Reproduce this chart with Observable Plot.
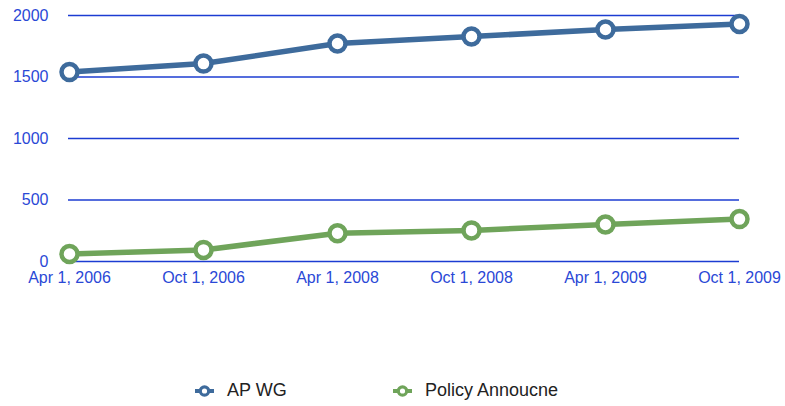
<!DOCTYPE html>
<html>
<head>
<meta charset="utf-8">
<script src="https://cdn.jsdelivr.net/npm/d3@7"></script>
<script src="https://cdn.jsdelivr.net/npm/@observablehq/plot@0.6"></script>
<style>
  html, body { margin: 0; padding: 0; background: #fff; }
  #chart { width: 785px; }
  .legend { height: 31px; display: flex; align-items: center; font-family: "Liberation Sans", Arial, sans-serif; font-size: 18px; color: #222; }
  .legend .item { display: flex; align-items: center; position: absolute; }
  .legend svg { margin-right: 13px; }
</style>
</head>
<body>
<div id="chart"></div>
<script>
const categories = ["Apr 1, 2006", "Oct 1, 2006", "Apr 1, 2008", "Oct 1, 2008", "Apr 1, 2009", "Oct 1, 2009"];
const apwg = [1540, 1609, 1772, 1829, 1886, 1931];
const policy = [61, 94, 230, 253, 301, 345];
const seriesNames = ["AP WG", "Policy Annoucne"];
const seriesColors = ["#3e6b9c", "#6fa45a"];
const yTicks = [0, 500, 1000, 1500, 2000];

const data = [
  ...categories.map((c, i) => ({cat: c, value: apwg[i], series: seriesNames[0]})),
  ...categories.map((c, i) => ({cat: c, value: policy[i], series: seriesNames[1]}))
];

const textColor = "#2a48d6";
const gridColor = "#1c3cd2";

const plot = Plot.plot({
  width: 785,
  height: 375,
  marginLeft: 68,
  marginRight: 46,
  marginTop: 15,
  marginBottom: 114,
  style: {fontFamily: "'Liberation Sans', Arial, sans-serif", fontSize: "16px", color: textColor, background: "#fff"},
  x: {type: "point", domain: categories, padding: 0, label: null},
  y: {domain: [0, 2000], label: null},
  color: {domain: seriesNames, range: seriesColors},
  marks: [
    Plot.ruleY(yTicks, {stroke: gridColor, strokeWidth: 1.3, strokeOpacity: 1}),
    Plot.axisY(yTicks, {tickSize: 0, tickPadding: 20, fill: textColor, fontSize: 16, tickFormat: d => String(d)}),
    Plot.axisX({tickSize: 0, tickPadding: 10, fill: textColor, fontSize: 16}),
    Plot.line(data, {x: "cat", y: "value", z: "series", stroke: "series", strokeWidth: 5.5}),
    Plot.dot(data, {x: "cat", y: "value", stroke: "series", fill: "#fff", r: 8, strokeWidth: 4.5})
  ]
});

document.getElementById("chart").appendChild(plot);

// legend
const legend = document.createElement("div");
legend.className = "legend";
legend.style.position = "relative";
const legendX = [195, 393];
seriesNames.forEach((name, i) => {
  const item = document.createElement("div");
  item.className = "item";
  item.style.left = legendX[i] + "px";
  item.innerHTML = `<svg width="19" height="12" viewBox="0 0 19 12"><line x1="0" y1="6" x2="19" y2="6" stroke="${seriesColors[i]}" stroke-width="4"/><circle cx="9.5" cy="6" r="4.2" fill="#fff" stroke="${seriesColors[i]}" stroke-width="3.2"/></svg><span>${name}</span>`;
  legend.appendChild(item);
});
document.getElementById("chart").appendChild(legend);
</script>
</body>
</html>
